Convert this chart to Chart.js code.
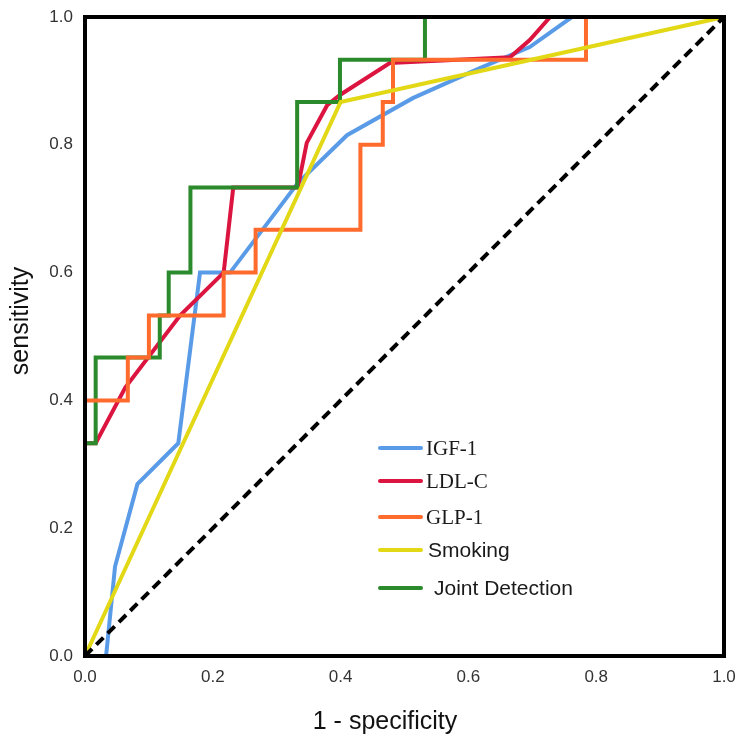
<!DOCTYPE html>
<html>
<head>
<meta charset="utf-8">
<script src="https://cdn.jsdelivr.net/npm/chart.js@4.4.1/dist/chart.umd.min.js"></script>
<style>
  html, body { margin: 0; padding: 0; background: #fff; }
  #wrap { width: 736px; height: 738px; position: relative; }
</style>
</head>
<body>
<div id="wrap"><canvas id="c" width="736" height="738"></canvas></div>
<script>
// ---- data ----
const tickValues = [0, 0.2, 0.4, 0.6, 0.8, 1.0];
const tickLabels = ['0.0', '0.2', '0.4', '0.6', '0.8', '1.0'];

const seriesNames = ['IGF-1', 'LDL-C', 'GLP-1', 'Smoking', 'Joint Detection'];

const igfX = [0.033, 0.047, 0.082, 0.146, 0.18, 0.227, 0.333, 0.41, 0.513, 0.618, 0.696, 0.762, 1.0];
const igfY = [0, 0.14, 0.269, 0.333, 0.6, 0.6, 0.74, 0.815, 0.873, 0.92, 0.953, 1.0, 1.0];

const ldlX = [0, 0, 0.0167, 0.063, 0.149, 0.217, 0.232, 0.333, 0.347, 0.379, 0.399, 0.477, 0.665, 0.696, 0.728, 1.0];
const ldlY = [0, 0.333, 0.333, 0.42, 0.533, 0.6, 0.733, 0.733, 0.803, 0.862, 0.878, 0.928, 0.937, 0.964, 1.0, 1.0];

const glpX = [0, 0, 0.067, 0.067, 0.1, 0.1, 0.217, 0.217, 0.267, 0.267, 0.431, 0.431, 0.466, 0.466, 0.482, 0.482, 0.784, 0.784, 1.0];
const glpY = [0, 0.4, 0.4, 0.467, 0.467, 0.533, 0.533, 0.6, 0.6, 0.667, 0.667, 0.8, 0.8, 0.867, 0.867, 0.933, 0.933, 1.0, 1.0];

const smokeX = [0, 0.4, 1.0];
const smokeY = [0, 0.867, 1.0];

const jointX = [0, 0, 0.0167, 0.0167, 0.117, 0.117, 0.131, 0.131, 0.165, 0.165, 0.332, 0.332, 0.399, 0.399, 0.532, 0.532, 1.0];
const jointY = [0, 0.333, 0.333, 0.467, 0.467, 0.533, 0.533, 0.6, 0.6, 0.733, 0.733, 0.867, 0.867, 0.933, 0.933, 1.0, 1.0];

const refX = [0, 1];
const refY = [0, 1];

// ---- styles ----
const colors = ['#5A9BE8', '#DC1440', '#FF6B2C', '#E2D816', '#2B8A2B'];
const legendFonts = ['21px "Liberation Serif"', '21px "Liberation Serif"', '21px "Liberation Serif"', '21px "Liberation Sans"', '21px "Liberation Sans"'];

function pts(xs, ys) { return xs.map((x, i) => ({ x: x, y: ys[i] })); }

const allX = [igfX, ldlX, glpX, smokeX, jointX];
const allY = [igfY, ldlY, glpY, smokeY, jointY];
const drawOrder = [6, 5, 3, 2, 4]; // lower = drawn on top

const datasets = seriesNames.map((name, i) => ({
  label: name,
  data: pts(allX[i], allY[i]),
  borderColor: colors[i],
  borderWidth: 4,
  pointRadius: 0,
  tension: 0,
  fill: false,
  borderJoinStyle: 'miter',
  order: drawOrder[i],
  clip: 6
}));
datasets.push({
  label: 'reference',
  data: pts(refX, refY),
  borderColor: '#000',
  borderWidth: 4,
  borderDash: [10, 6],
  pointRadius: 0,
  fill: false,
  order: 0,
  clip: 6
});

const framePlugin = {
  id: 'frame',
  afterDatasetsDraw(chart) {
    const a = chart.chartArea, ctx = chart.ctx;
    ctx.save();
    ctx.strokeStyle = '#000';
    ctx.lineWidth = 4;
    ctx.lineJoin = 'miter';
    ctx.strokeRect(a.left, a.top, a.right - a.left, a.bottom - a.top);
    ctx.restore();
  }
};

const legendPlugin = {
  id: 'customLegend',
  afterDraw(chart) {
    const ctx = chart.ctx;
    const rowsY = [448, 481, 517, 550, 588];
    const textX = [426, 426, 426, 428, 434];
    ctx.save();
    seriesNames.forEach((name, i) => {
      ctx.strokeStyle = colors[i];
      ctx.lineWidth = 4;
      ctx.lineCap = 'round';
      ctx.beginPath();
      ctx.moveTo(380, rowsY[i]);
      ctx.lineTo(421, rowsY[i]);
      ctx.stroke();
      ctx.fillStyle = '#1a1a1a';
      ctx.font = legendFonts[i];
      ctx.textBaseline = 'middle';
      ctx.textAlign = 'left';
      ctx.fillText(name, textX[i], rowsY[i] + 1);
    });
    ctx.restore();
  }
};

const titlesPlugin = {
  id: 'axisTitles',
  afterDraw(chart) {
    const ctx = chart.ctx;
    ctx.save();
    ctx.fillStyle = '#111';
    ctx.font = '25px "Liberation Sans"';
    ctx.textAlign = 'center';
    ctx.textBaseline = 'middle';
    ctx.fillText('1 - specificity', 385, 722);
    ctx.translate(21, 321);
    ctx.rotate(-Math.PI / 2);
    ctx.fillText('sensitivity', 0, 0);
    ctx.restore();
  }
};

new Chart(document.getElementById('c'), {
  type: 'scatter',
  data: { datasets: datasets },
  options: {
    responsive: false,
    animation: false,
    showLine: true,
    layout: { padding: { top: 17, right: 12, left: 0, bottom: 0 } },
    plugins: { legend: { display: false }, tooltip: { enabled: false } },
    scales: {
      x: {
        type: 'linear', min: 0, max: 1,
        grid: { display: false, drawTicks: false },
        border: { display: false },
        afterBuildTicks(scale) { scale.ticks = tickValues.map(v => ({ value: v })); },
        afterFit(scale) {
          scale.height = 82;
          scale.paddingLeft = 0; scale.paddingRight = 0;
        },
        ticks: {
          padding: 11,
          color: '#333',
          font: { family: '"Liberation Sans"', size: 17 },
          callback: (v, i) => tickLabels[i],
          maxRotation: 0
        }
      },
      y: {
        type: 'linear', min: 0, max: 1,
        grid: { display: false, drawTicks: false },
        border: { display: false },
        afterBuildTicks(scale) { scale.ticks = tickValues.map(v => ({ value: v })); },
        afterFit(scale) {
          scale.width = 85;
          scale.paddingTop = 0; scale.paddingBottom = 0;
        },
        ticks: {
          padding: 12,
          color: '#333',
          font: { family: '"Liberation Sans"', size: 17 },
          callback: (v, i) => tickLabels[i]
        }
      }
    }
  },
  plugins: [framePlugin, legendPlugin, titlesPlugin]
});
</script>
</body>
</html>
